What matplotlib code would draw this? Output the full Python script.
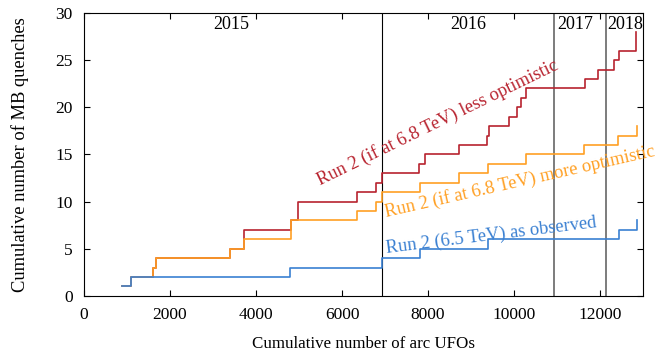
import matplotlib
matplotlib.use("Agg")
import matplotlib.pyplot as plt

plt.rcParams['font.family'] = ['Liberation Serif', 'DejaVu Serif']

blue_x = [880, 1085, 4790, 6940, 7810, 9400, 12440, 12850]
blue_y = [1, 2, 3, 4, 5, 6, 7, 8]

orange_x = [880, 1085, 1595, 1675, 3395, 3720, 4805, 6340, 6800, 6920, 7810,
            8720, 9400, 10280, 11620, 12420, 12850]
orange_y = [1, 2, 3, 4, 5, 6, 8, 9, 10, 11, 12, 13, 14, 15, 16, 17, 18]

red_x = [880, 1085, 1595, 1675, 3395, 3720, 4805, 4970, 6340, 6800, 6920, 7800,
         7930, 8720, 9370, 9410, 9880, 10060, 10170, 10280, 11650, 11940, 12330,
         12440, 12830]
red_y = [1, 2, 3, 4, 5, 7, 8, 10, 11, 12, 13, 14, 15, 16, 17, 18, 19, 20, 21,
         22, 23, 24, 25, 26, 28]

year_bounds = [6920, 10920, 12130]
year_labels = ['2015', '2016', '2017', '2018']
year_label_x = [3430, 8930, 11420, 12580]

c_red = '#b8232f'
c_orange = '#ffa024'
c_blue = '#3a80d2'

fig = plt.figure(figsize=(6.61, 3.51), dpi=100)
ax = fig.add_axes([0.127, 0.157, 0.846, 0.806])

ax.plot(red_x, red_y, drawstyle='steps-post', color=c_red, lw=1.2, zorder=2)
ax.plot(orange_x, orange_y, drawstyle='steps-post', color=c_orange, lw=1.2, zorder=3)
ax.plot(blue_x, blue_y, drawstyle='steps-post', color=c_blue, lw=1.2, zorder=4)

ax.axvline(year_bounds[0], color='black', lw=0.8, zorder=1)
for xb in year_bounds[1:]:
    ax.axvline(xb, color='#666666', lw=1.2, zorder=1)

for lab, xl in zip(year_labels, year_label_x):
    ax.text(xl, 28.8, lab, ha='center', va='center', fontsize=13)

ax.text(5488, 11.77, 'Run 2 (if at 6.8 TeV) less optimistic', color=c_red,
        rotation=26, rotation_mode='anchor', ha='left', va='baseline', fontsize=13.3)
ax.text(7023, 8.41, 'Run 2 (if at 6.8 TeV) more optimistic', color=c_orange,
        rotation=12.8, rotation_mode='anchor', ha='left', va='baseline', fontsize=13.3)
ax.text(7023, 4.56, 'Run 2 (6.5 TeV) as observed', color=c_blue,
        rotation=7, rotation_mode='anchor', ha='left', va='baseline', fontsize=13.3)

ax.set_xlim(0, 13000)
ax.set_ylim(0, 30)
ax.set_xticks(range(0, 13000, 2000))
ax.set_yticks(range(0, 31, 5))
ax.tick_params(direction='in', top=True, right=True, length=4, labelsize=12.5)
ax.tick_params(axis='x', pad=8)
ax.tick_params(axis='y', pad=8)
ax.set_xlabel('Cumulative number of arc UFOs', fontsize=12.2, labelpad=9)
ax.set_ylabel('Cumulative number of MB quenches', fontsize=13.3, labelpad=19)

fig.savefig('out.png', dpi=100)
